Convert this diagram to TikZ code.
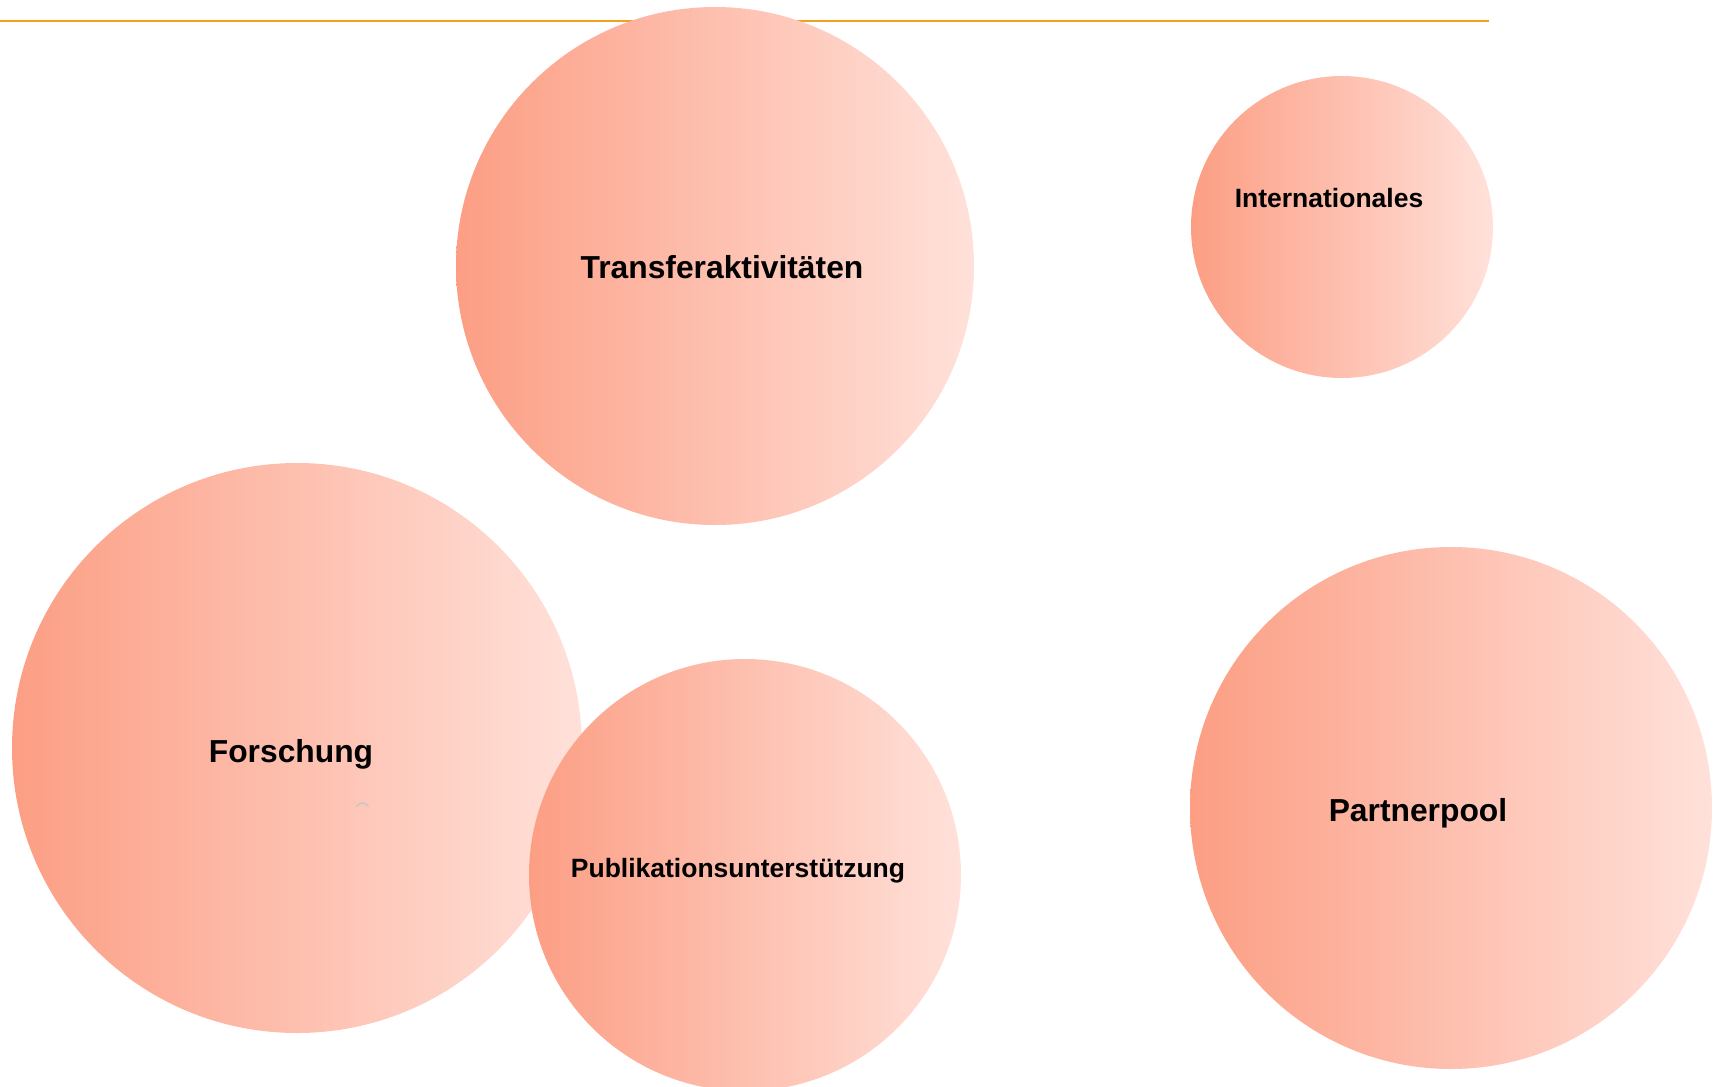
\documentclass[tikz,border=0pt]{standalone}
\usepackage{fontspec}
\setmainfont{Liberation Sans}
\usepackage{xcolor}
\usetikzlibrary{positioning}
\definecolor{bubbleleft}{RGB}{252,158,132}
\definecolor{bubbleright}{RGB}{255,225,218}
\definecolor{ruleorange}{RGB}{243,160,30}

\begin{document}
\begin{tikzpicture}[x=1pt, y=-1pt,
    bubble/.style={circle, inner sep=0pt, left color=bubbleleft, right color=bubbleright},
    biglabel/.style={anchor=base, font=\fontsize{31.8}{36}\selectfont\bfseries},
    smalllabel/.style={anchor=base, font=\fontsize{26.5}{30}\selectfont\bfseries}]
    \useasboundingbox (0,0) rectangle (1719,1087);

    % Top rule, behind the bubbles
    \coordinate (ruleL) at (0,21);
    \coordinate (ruleR) at (1489,21);
    \draw[ruleorange, line width=2.5] (ruleL) -- (ruleR);

    % Bubbles
    \node[bubble, minimum size=518] (transfer) at (715,266) {};
    \node[bubble, minimum size=302] (intl) at (1342,227) {};
    \node[bubble, minimum size=570] (forschung) at (297,748) {};
    \node[bubble, minimum size=432] (publik) at (745,875) {};
    \node[bubble, minimum size=522] (partner) at (1451,808) {};

    % Labels
    \node[biglabel] (transferText) at (722,278) {Transferaktivitäten};
    \node[smalllabel] (intlText) at (1329,207) {Internationales};
    \node[biglabel] (forschungText) at (291,762) {Forschung};
    \node[smalllabel] (publikText) at (738,877) {Publikationsunterstützung};
    \node[biglabel] (partnerText) at (1418,821) {Partnerpool};

    % small mark inside Forschung
    \draw[gray!45, line width=1.5, line cap=round] (357,806) .. controls (360,802) and (365,802) .. (368,806);
\end{tikzpicture}
\end{document}
